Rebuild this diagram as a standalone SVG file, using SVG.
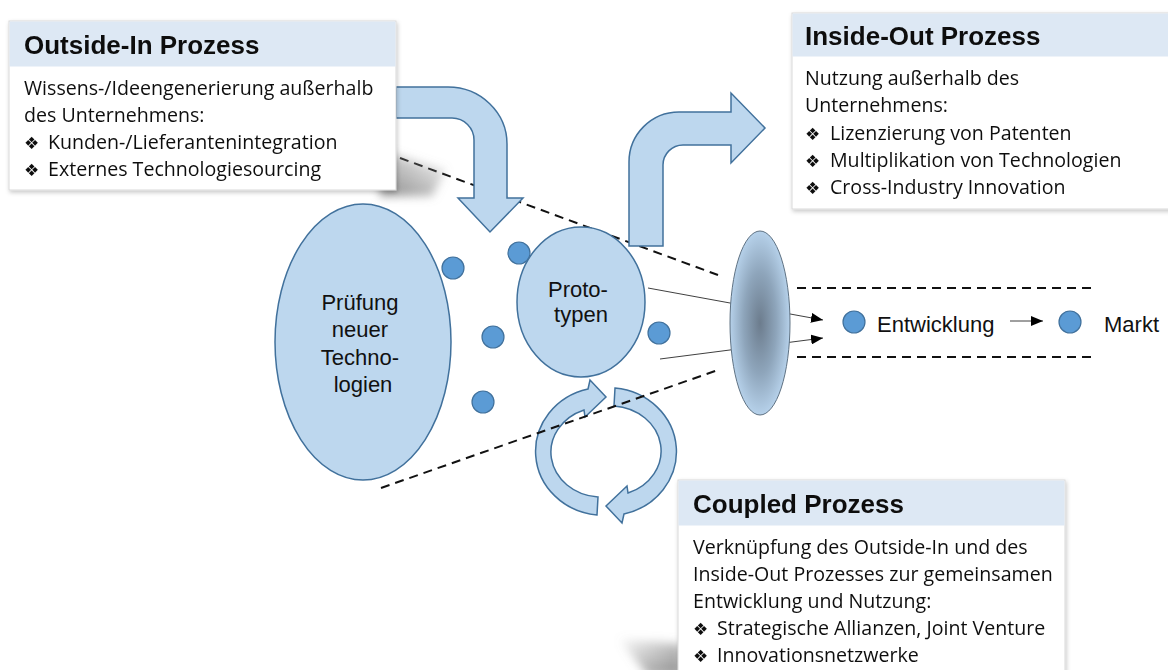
<svg xmlns="http://www.w3.org/2000/svg" width="1168" height="670" viewBox="0 0 1168 670">
  <style>
    .shape { fill: #bdd7ee; stroke: #41719c; stroke-width: 1.5; }
    .dot { fill: #5b9bd5; stroke: #41719c; stroke-width: 1.2; }
    .label { font-family: "Liberation Sans", Arial, sans-serif; font-size: 22px; fill: #111; }
    .dash { stroke: #111; stroke-width: 2; stroke-dasharray: 9 6; fill: none; }
    .thin { stroke: #404040; stroke-width: 1; fill: none; }
    .box { fill: #ffffff; stroke: #d9d9d9; stroke-width: 1; }
    .head { fill: #dde8f4; }
    .title { font-family: "Liberation Sans", Arial, sans-serif; font-weight: bold; font-size: 26px; fill: #111; }
    .body { font-family: "Open Sans", "DejaVu Sans", sans-serif; font-size: 19.6px; fill: #111; }
    .b { font-family: "DejaVu Sans", sans-serif; font-size: 17px; }
  </style>
  <defs>
    <marker id="tri" viewBox="0 0 12 10" refX="12" refY="5" markerWidth="12" markerHeight="10" markerUnits="userSpaceOnUse" orient="auto">
      <path d="M0,0 L12,5 L0,10 Z" fill="#000"/>
    </marker>
    <radialGradient id="lens" cx="0.5" cy="0.5" r="0.5">
      <stop offset="0" stop-color="#6c7c8d"/>
      <stop offset="0.55" stop-color="#8ea5bb"/>
      <stop offset="1" stop-color="#b6d1ea"/>
    </radialGradient>
    <filter id="soft" x="-10%" y="-10%" width="120%" height="130%">
      <feDropShadow dx="1" dy="2" stdDeviation="2" flood-color="#000" flood-opacity="0.22"/>
    </filter>
    <filter id="blur" x="-50%" y="-50%" width="200%" height="200%">
      <feGaussianBlur stdDeviation="5"/>
    </filter>
    <linearGradient id="shadeR" x1="0" y1="1" x2="1" y2="0">
      <stop offset="0" stop-color="#8a8a8a"/>
      <stop offset="1" stop-color="#8a8a8a" stop-opacity="0"/>
    </linearGradient>
    <linearGradient id="shadeL" x1="1" y1="1" x2="0" y2="0">
      <stop offset="0" stop-color="#8a8a8a"/>
      <stop offset="1" stop-color="#8a8a8a" stop-opacity="0"/>
    </linearGradient>
    <path id="cyc" d="M597,515 A68,64 0 0 1 588,389 L590,380 L606,397 L585,417 L584,410 A51,45 0 0 0 598,497 Z"/>
  </defs>

  <!-- cycle arrows between the prototype and the coupled process -->
  <g id="cycle">
    <use href="#cyc" class="shape"/>
    <use href="#cyc" class="shape" transform="rotate(180 606 451.5)"/>
  </g>

  <!-- boundary funnel and market channel -->
  <g id="connectors">
    <line class="dash" x1="400" y1="158" x2="718" y2="275"/>
    <line class="dash" x1="381" y1="488" x2="718" y2="370"/>
    <line class="dash" x1="797" y1="288" x2="1094" y2="288"/>
    <line class="dash" x1="797" y1="357" x2="1094" y2="357"/>
    <line class="thin" x1="648" y1="288" x2="823" y2="320" marker-end="url(#tri)"/>
    <line class="thin" x1="660" y1="359" x2="823" y2="338" marker-end="url(#tri)"/>
    <line class="thin" x1="1010" y1="321" x2="1043" y2="321" marker-end="url(#tri)"/>
  </g>

  <!-- inflow and outflow arrows -->
  <g id="outside-in-arrow">
    <path class="shape" d="M396,87 L448,87 A59,57 0 0 1 507,144 L507,198 L523,198 L490,232 L458,198 L474,198 L474,140 A22,22 0 0 0 452,118 L396,118 Z"/>
  </g>
  <g id="inside-out-arrow">
    <path class="shape" d="M629,246 L629,162 A50,50 0 0 1 679,112 L731,112 L731,93 L765,128 L731,163 L731,145 L683,145 A20,20 0 0 0 663,165 L663,246 Z"/>
  </g>

  <g id="pruefung">
    <ellipse class="shape" cx="363" cy="342" rx="88" ry="138"/>
    <text class="label" text-anchor="middle">
      <tspan x="363" y="310">Prüfung</tspan>
      <tspan x="363" y="337">neuer</tspan>
      <tspan x="363" y="365">Techno-</tspan>
      <tspan x="363" y="392">logien</tspan>
    </text>
  </g>

  <g id="prototypen">
    <ellipse class="shape" cx="581" cy="302" rx="64" ry="75"/>
    <text class="label" text-anchor="middle">
      <tspan x="581" y="297">Proto-</tspan>
      <tspan x="581" y="322">typen</tspan>
    </text>
  </g>

  <g id="ideas">
    <circle class="dot" cx="453" cy="268" r="11"/>
    <circle class="dot" cx="519" cy="253" r="11"/>
    <circle class="dot" cx="493" cy="337" r="11"/>
    <circle class="dot" cx="483" cy="402" r="11"/>
    <circle class="dot" cx="659" cy="333" r="11"/>
  </g>

  <g id="filter-lens">
    <ellipse cx="760" cy="323" rx="30" ry="92" fill="url(#lens)" stroke="#5f7283" stroke-width="1"/>
  </g>

  <g id="entwicklung">
    <circle class="dot" cx="854" cy="322" r="11"/>
    <text class="label" x="877" y="332">Entwicklung</text>
  </g>
  <g id="markt">
    <circle class="dot" cx="1070" cy="322" r="11"/>
    <text class="label" x="1104" y="332">Markt</text>
  </g>

  <!-- perspective shadows behind the text panels -->
  <polygon points="380,150 446,170 432,196 380,196" fill="url(#shadeR)" filter="url(#blur)"/>
  <polygon points="618,638 682,644 682,676 648,676" fill="url(#shadeL)" filter="url(#blur)"/>

  <g id="outside-in" filter="url(#soft)">
    <rect class="box" x="9" y="21" width="387" height="169"/>
    <rect class="head" x="9.5" y="21.5" width="386" height="45"/>
    <text class="title" x="24" y="54">Outside-In Prozess</text>
    <text class="body">
      <tspan x="24" y="95">Wissens-/Ideengenerierung außerhalb</tspan>
      <tspan x="24" y="122">des Unternehmens:</tspan>
      <tspan x="24" y="149"><tspan class="b">❖</tspan><tspan x="48">Kunden-/Lieferantenintegration</tspan></tspan>
      <tspan x="24" y="176"><tspan class="b">❖</tspan><tspan x="48">Externes Technologiesourcing</tspan></tspan>
    </text>
  </g>

  <g id="inside-out" filter="url(#soft)">
    <rect class="box" x="792" y="13" width="390" height="196"/>
    <rect class="head" x="792.5" y="13.5" width="389" height="43"/>
    <text class="title" x="805" y="45">Inside-Out Prozess</text>
    <text class="body">
      <tspan x="805" y="85">Nutzung außerhalb des</tspan>
      <tspan x="805" y="112">Unternehmens:</tspan>
      <tspan x="805" y="140"><tspan class="b">❖</tspan><tspan x="830">Lizenzierung von Patenten</tspan></tspan>
      <tspan x="805" y="167"><tspan class="b">❖</tspan><tspan x="830">Multiplikation von Technologien</tspan></tspan>
      <tspan x="805" y="194"><tspan class="b">❖</tspan><tspan x="830">Cross-Industry Innovation</tspan></tspan>
    </text>
  </g>

  <g id="coupled" filter="url(#soft)">
    <rect class="box" x="678" y="480" width="387" height="200"/>
    <rect class="head" x="678.5" y="480.5" width="386" height="45"/>
    <text class="title" x="693" y="513">Coupled Prozess</text>
    <text class="body">
      <tspan x="693" y="554">Verknüpfung des Outside-In und des</tspan>
      <tspan x="693" y="581">Inside-Out Prozesses zur gemeinsamen</tspan>
      <tspan x="693" y="608">Entwicklung und Nutzung:</tspan>
      <tspan x="693" y="635"><tspan class="b">❖</tspan><tspan x="717">Strategische Allianzen, Joint Venture</tspan></tspan>
      <tspan x="693" y="662"><tspan class="b">❖</tspan><tspan x="717">Innovationsnetzwerke</tspan></tspan>
    </text>
  </g>
</svg>
